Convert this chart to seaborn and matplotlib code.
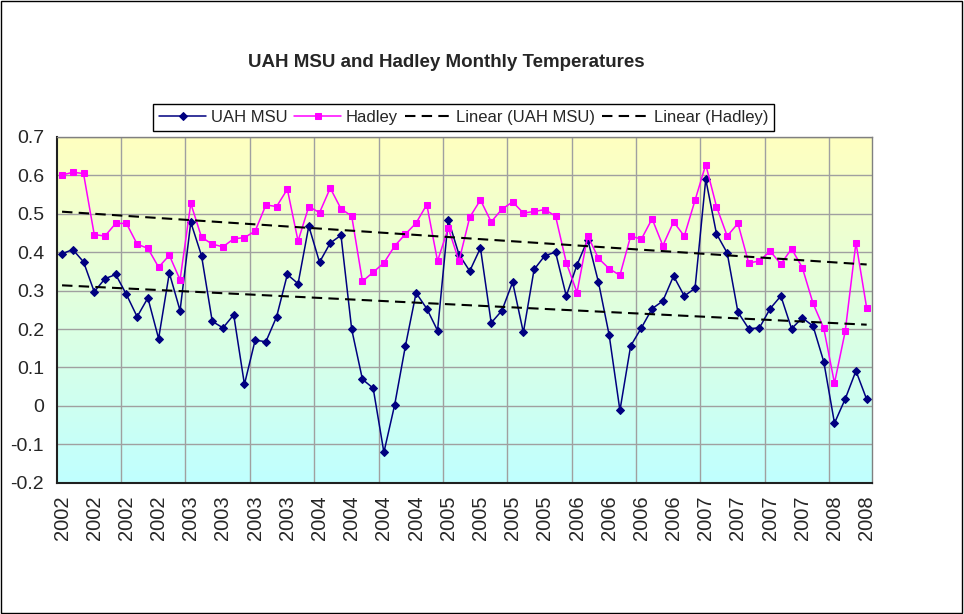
import numpy as np
import matplotlib.pyplot as plt
import seaborn as sns
from matplotlib.colors import LinearSegmentedColormap
from matplotlib.patches import Rectangle

# monthly anomalies, Jan 2002 .. Apr 2008
uah = [0.396, 0.407, 0.375, 0.297, 0.331, 0.342, 0.290, 0.232, 0.281, 0.175,
       0.346, 0.248, 0.478, 0.391, 0.220, 0.203, 0.237, 0.056, 0.171, 0.167,
       0.232, 0.342, 0.318, 0.468, 0.374, 0.424, 0.444, 0.199, 0.069, 0.046,
       -0.121, 0.002, 0.155, 0.294, 0.253, 0.196, 0.485, 0.394, 0.351, 0.411,
       0.216, 0.248, 0.322, 0.191, 0.355, 0.391, 0.400, 0.286, 0.367, 0.433,
       0.322, 0.184, -0.012, 0.156, 0.203, 0.253, 0.273, 0.338, 0.286, 0.306,
       0.590, 0.448, 0.398, 0.244, 0.201, 0.203, 0.253, 0.286, 0.201, 0.229,
       0.208, 0.115, -0.045, 0.018, 0.091, 0.017]
hadley = [0.601, 0.608, 0.605, 0.446, 0.442, 0.475, 0.475, 0.421, 0.410, 0.361,
          0.392, 0.328, 0.527, 0.439, 0.421, 0.414, 0.435, 0.438, 0.455, 0.523,
          0.519, 0.564, 0.429, 0.519, 0.503, 0.567, 0.513, 0.494, 0.324, 0.348,
          0.372, 0.416, 0.447, 0.476, 0.524, 0.377, 0.463, 0.377, 0.491, 0.536,
          0.479, 0.512, 0.531, 0.502, 0.506, 0.511, 0.494, 0.373, 0.295, 0.443,
          0.384, 0.357, 0.340, 0.442, 0.434, 0.487, 0.417, 0.479, 0.442, 0.535,
          0.628, 0.519, 0.442, 0.475, 0.372, 0.377, 0.403, 0.369, 0.409, 0.360,
          0.267, 0.202, 0.059, 0.194, 0.425, 0.255]

# one label every 3 months
year_labels = ['2002'] * 4 + ['2003'] * 4 + ['2004'] * 4 + ['2005'] * 4 + \
              ['2006'] * 4 + ['2007'] * 4 + ['2008'] * 2
y_ticks = [-0.2, -0.1, 0.0, 0.1, 0.2, 0.3, 0.4, 0.5, 0.6, 0.7]
y_labels = ['-0.2', '-0.1', '0', '0.1', '0.2', '0.3', '0.4', '0.5', '0.6', '0.7']

sns.set_style('white')
plt.rcParams['font.family'] = ['Liberation Sans', 'DejaVu Sans']

idx = np.arange(len(uah))

fig = plt.figure(figsize=(9.64, 6.14), dpi=100)
ax = fig.add_axes([0.0588, 0.2139, 0.8458, 0.563])

# yellow -> cyan plot area
bg = LinearSegmentedColormap.from_list('bg', ['#FFFFC0', '#C0FFFF'])
ax.imshow(np.linspace(0, 1, 256).reshape(-1, 1), cmap=bg, aspect='auto',
          extent=[-0.5, len(uah) - 0.5, -0.2, 0.7], origin='upper', zorder=0)

sns.lineplot(x=idx, y=uah, ax=ax, color='#000080', marker='D', markersize=4.5,
             markeredgecolor='#000080', lw=1.1, label='UAH MSU')
sns.lineplot(x=idx, y=hadley, ax=ax, color='#FF00FF', marker='s', markersize=4.5,
             markeredgecolor='#FF00FF', lw=1.1, label='Hadley')
sns.regplot(x=idx, y=uah, ax=ax, scatter=False, ci=None, label='Linear (UAH MSU)',
            line_kws=dict(color='black', ls=(0, (5, 3)), lw=1.5))
sns.regplot(x=idx, y=hadley, ax=ax, scatter=False, ci=None, label='Linear (Hadley)',
            line_kws=dict(color='black', ls=(0, (5, 3)), lw=1.5))

ax.set_xlim(-0.5, len(uah) - 0.5)
ax.set_ylim(-0.2, 0.7)
ax.set_xlabel('')
ax.set_ylabel('')

ax.set_xticks(idx[::3])
ax.set_xticklabels(year_labels, rotation=90, fontsize=14.5)
ax.set_xticks(np.arange(5.5, len(uah) - 1, 6), minor=True)
ax.set_yticks(y_ticks)
ax.set_yticklabels(y_labels, fontsize=14)
ax.tick_params(axis='x', which='major', length=0, pad=9)
ax.tick_params(axis='x', which='minor', length=5, direction='out', color='black', width=1)
ax.tick_params(axis='y', length=5, direction='out', color='black', width=1, pad=4)

ax.set_axisbelow(True)
ax.grid(False)
ax.grid(axis='y', which='major', color='#A0A0A0', lw=1)
ax.grid(axis='x', which='minor', color='#A0A0A0', lw=1)

for s in ['left', 'bottom']:
    ax.spines[s].set_color('#202020')
    ax.spines[s].set_linewidth(1.5)
for s in ['top', 'right']:
    ax.spines[s].set_color('#808080')
    ax.spines[s].set_linewidth(1)

handles, labels = ax.get_legend_handles_labels()
if ax.get_legend():
    ax.get_legend().remove()
leg = fig.legend(handles, labels, loc='center', bbox_to_anchor=(0.481, 0.809), ncol=4,
                 frameon=True, fancybox=False, edgecolor='black', framealpha=1,
                 fontsize=12, handlelength=2.8, columnspacing=0.4, handletextpad=0.3,
                 borderpad=0.35, borderaxespad=0)
leg.get_frame().set_linewidth(1)

fig.text(0.463, 0.899, 'UAH MSU and Hadley Monthly Temperatures', ha='center', va='center',
         fontsize=13.5, fontweight='bold')

fig.patches.append(Rectangle((0.001, 0.001), 0.997, 0.997, transform=fig.transFigure,
                             fill=False, ec='black', lw=1))

fig.savefig('out.png', dpi=100)
